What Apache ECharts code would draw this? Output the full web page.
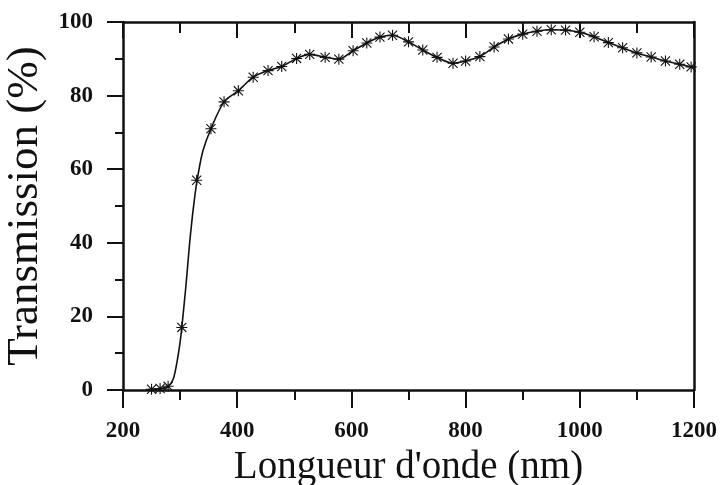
<!DOCTYPE html>
<html>
<head>
<meta charset="utf-8">
<script src="https://cdn.jsdelivr.net/npm/echarts@6/dist/echarts.min.js"></script>
<style>
html,body{margin:0;padding:0;background:#fff;}
#chart{width:724px;height:485px;}
</style>
</head>
<body>
<div id="chart"></div>
<script>
// Data
const lineWl = [240,250,265,279,288,295,300,303,310,318,326,332,340,354,377,402,428,454,478,504,527,554,578,603,627,650,672,700,725,750,778,800,825,850,875,900,925,950,975,1000,1025,1050,1075,1100,1125,1150,1175,1200];
const lineT  = [0,0.2,0.4,1,3,8,13,17,28,42,53,59,65,71,78.3,81.3,85,86.8,87.9,90.1,91.2,90.4,89.9,92.2,94.3,95.9,96.4,94.6,92.4,90.4,88.8,89.4,90.6,93.2,95.4,96.7,97.5,97.9,97.8,97.2,96,94.4,93,91.6,90.5,89.4,88.5,87.6];
const markerWl = [250,265,279,303,329,354,377,402,428,454,478,504,527,554,578,603,627,650,672,700,725,750,778,800,825,850,875,900,925,950,975,1000,1025,1050,1075,1100,1125,1150,1175,1195];
const markerT  = [0.2,0.4,1,17,57,71,78.3,81.3,85,86.8,87.9,90.1,91.2,90.4,89.9,92.2,94.3,95.9,96.4,94.6,92.4,90.4,88.8,89.4,90.6,93.2,95.4,96.7,97.5,97.9,97.8,97.2,96,94.4,93,91.6,90.5,89.4,88.5,87.8];
const xTicks = [200,400,600,800,1000,1200];
const yTicks = [0,20,40,60,80,100];
const xTitle = "Longueur d'onde (nm)";
const yTitle = "Transmission (%)";

const serif = "'Liberation Serif','Times New Roman',serif";
const asterisk = 'path://M0,4.5L10,4.5L10,5.5L0,5.5Z M4.5,0L5.5,0L5.5,10L4.5,10Z M0.5,1.2L1.2,0.5L9.5,8.8L8.8,9.5Z M8.8,0.5L9.5,1.2L1.2,9.5L0.5,8.8Z';

const chart = echarts.init(document.getElementById('chart'), null, {renderer:'canvas'});
const axisLine = {show:true, onZero:false, lineStyle:{color:'#111', width:2.5}};
chart.setOption({
  animation:false,
  backgroundColor:'#fff',
  grid:{left:123, right:30, top:22, bottom:95, show:false, containLabel:false, outerBoundsMode:'none'},
  xAxis:[{
    type:'value', min:200, max:1200, interval:200, position:'bottom',
    axisLine:axisLine,
    axisTick:{show:true, inside:false, length:18, lineStyle:{color:'#111', width:2}},
    minorTick:{show:true, splitNumber:2, length:10, lineStyle:{color:'#111', width:2}},
    splitLine:{show:false},
    axisLabel:{margin:30, color:'#111', fontFamily:serif, fontWeight:'bold', fontSize:23,
      formatter:v => xTicks.includes(v) ? String(v) : ''},
    name:xTitle, nameLocation:'middle', nameGap:53,
    nameTextStyle:{fontFamily:serif, fontSize:39, color:'#111'}
  },{
    type:'value', min:200, max:1200, interval:200, position:'top',
    axisLine:axisLine,
    axisTick:{show:true, inside:true, length:16, lineStyle:{color:'#111', width:2}},
    minorTick:{show:true, splitNumber:2, length:11, lineStyle:{color:'#111', width:2}},
    splitLine:{show:false}, axisLabel:{show:false}
  }],
  yAxis:[{
    type:'value', min:0, max:100, interval:20, position:'left',
    axisLine:axisLine,
    axisTick:{show:true, inside:false, length:16, lineStyle:{color:'#111', width:2}},
    minorTick:{show:true, splitNumber:2, length:8, lineStyle:{color:'#111', width:2}},
    splitLine:{show:false},
    axisLabel:{margin:30, color:'#111', fontFamily:serif, fontWeight:'bold', fontSize:23,
      formatter:v => yTicks.includes(v) ? String(v) : ''},
    name:yTitle, nameLocation:'middle', nameGap:70, nameRotate:90,
    nameTextStyle:{fontFamily:serif, fontSize:45, color:'#111'}
  },{
    type:'value', min:0, max:100, interval:20, position:'right',
    axisLine:axisLine, axisTick:{show:false}, minorTick:{show:false}, axisLabel:{show:false}, splitLine:{show:false}
  }],
  series:[{
    type:'line', xAxisIndex:0, yAxisIndex:0,
    data:lineWl.map((w,i)=>[w,lineT[i]]),
    smooth:0.3, showSymbol:false, symbol:'none',
    lineStyle:{color:'#111', width:1.6}
  },{
    type:'scatter', xAxisIndex:0, yAxisIndex:0,
    data:markerWl.map((w,i)=>[w,markerT[i]]),
    symbol:asterisk, symbolSize:11,
    itemStyle:{color:'#111', opacity:1}
  }]
});
</script>
</body>
</html>
